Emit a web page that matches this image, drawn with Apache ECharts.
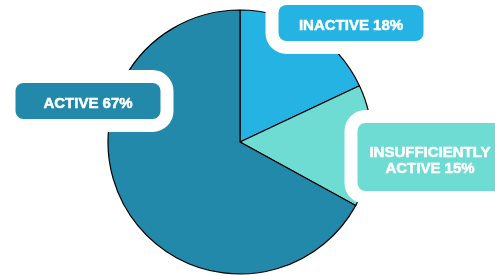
<!DOCTYPE html>
<html>
<head>
<meta charset="utf-8">
<script src="https://cdn.jsdelivr.net/npm/echarts@6/dist/echarts.min.js"></script>
<style>html,body{margin:0;padding:0;background:#fff}#c{width:495px;height:276px}</style>
</head>
<body>
<div id="c"></div>
<script>
const categories = ['INACTIVE', 'INSUFFICIENTLY\nACTIVE', 'ACTIVE'];
const values = [18, 15, 67];
const colors = ['#24B3E3', '#6FDCD4', '#2389AA'];

// label box top-left corners and paddings (layout only)
const labelPos = [[279, 5], [358, 123], [16, 83]];
const labelPad = [[13, 0, 7, 0], [22, 0, 14, 0], [13, 0, 7, 0]];

const chart = echarts.init(document.getElementById('c'), null, {renderer: 'canvas'});
chart.setOption({
  animation: false,
  series: [{
    type: 'pie',
    center: [240, 142],
    radius: 132,
    startAngle: 90,
    clockwise: true,
    avoidLabelOverlap: false,
    itemStyle: {borderColor: '#000', borderWidth: 1.2},
    emphasis: {disabled: true},
    labelLine: {show: false},
    label: {
      show: true,
      position: 'outside',
      formatter: p => p.name + ' ' + p.value + '%',
      color: '#fff',
      textBorderColor: '#fff',
      textBorderWidth: 0.5,
      fontFamily: 'Liberation Sans, Arial, sans-serif',
      fontWeight: 'bold',
      fontSize: 15,
      lineHeight: 16,
      align: 'center',
      verticalAlign: 'top',
      width: 145,
      borderColor: '#fff',
      borderWidth: 13,
      borderRadius: 8
    },
    labelLayout: p => ({
      x: labelPos[p.dataIndex][0] + 72,
      y: labelPos[p.dataIndex][1],
      align: 'center',
      verticalAlign: 'top'
    }),
    data: categories.map((c, i) => ({
      name: c,
      value: values[i],
      itemStyle: {color: colors[i]},
      label: {
        backgroundColor: colors[i],
        padding: labelPad[i]
      }
    }))
  }]
});
</script>
</body>
</html>
